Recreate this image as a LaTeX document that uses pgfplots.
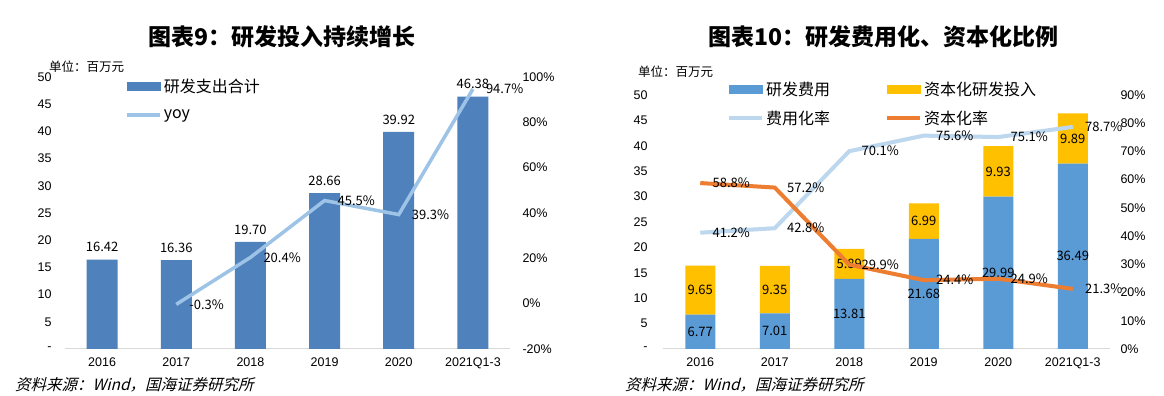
\documentclass[border=0pt]{standalone}
\usepackage{pgfplots}
\pgfplotsset{compat=1.18}
\usepackage{fontspec}
\setmainfont{Liberation Sans}
\newfontfamily\cjk{Noto Sans CJK SC}
\newfontfamily\cjkit{Noto Sans CJK SC}[FakeSlant=0.25]
\definecolor{barA}{HTML}{4F81BD}
\definecolor{lineA}{HTML}{9DC3E6}
\definecolor{barB}{HTML}{5B9BD5}
\definecolor{yel}{HTML}{FFC000}
\definecolor{lineB}{HTML}{BDD7EE}
\definecolor{org}{HTML}{ED7D31}
\definecolor{axgray}{HTML}{D9D9D9}
\pgfplotsset{
  base/.style={scale only axis, anchor=south west, xmin=-0.5, xmax=5.5, xtick={0,...,5},
    tick style={draw=none}, major tick length=0pt, clip=false,
    ticklabel style={font=\fontsize{12.5}{14}\selectfont}},
  lab/.style={nodes near coords, point meta=explicit symbolic,
    nodes near coords style={text=black, font=\cjk\fontsize{13}{14}\selectfont}},
}
\begin{document}
\begin{tikzpicture}
\fill[white] (0pt,0pt) rectangle (1164pt,396pt);
% ---------------- left panel ----------------
\node[font=\cjk\bfseries\fontsize{23}{25}\selectfont] at (282pt,359pt) {图表9：研发投入持续增长};
\node[font=\cjk\fontsize{12.5}{14}\selectfont, anchor=west, inner sep=0pt] at (49pt,329pt) {单位：百万元};
\node[font=\cjkit\fontsize{15.5}{17}\selectfont, anchor=west, inner sep=0pt] at (15pt,11pt) {资料来源：Wind，国海证券研究所};
\begin{axis}[base, at={(65pt,47pt)}, width=445pt, height=272pt, ymin=0, ymax=50,
  axis x line*=bottom, axis y line*=left,
  x axis line style={-, draw=axgray, line width=1pt}, y axis line style={draw=none},
  xticklabels={2016,2017,2018,2019,2020,2021Q1-3}, xticklabel style={yshift=-5pt},
  ytick={0,5,...,50}, yticklabels={-,5,10,15,20,25,30,35,40,45,50},
  yticklabel style={xshift=-10pt}]
\addplot[ybar, bar width=31pt, fill=barA, draw=none, lab,
  nodes near coords style={anchor=south, yshift=4pt}]
  coordinates {(0,16.42)[16.42] (1,16.36)[16.36] (2,19.70)[19.70] (3,28.66)[28.66] (4,39.92)[39.92] (5,46.38)[46.38]};
\end{axis}
\begin{axis}[base, at={(65pt,47pt)}, width=445pt, height=272pt, ymin=-20, ymax=100,
  axis y line*=right, axis x line=none, y axis line style={draw=none},
  ytick={-20,0,20,40,60,80,100}, yticklabels={-20\%,0\%,20\%,40\%,60\%,80\%,100\%},
  yticklabel style={xshift=9pt},
  legend style={draw=none, fill=none, at={(0.135,1.001)}, anchor=north west,
    font=\cjk\fontsize{16}{18}\selectfont, row sep=12pt, inner sep=0pt},
  legend cell align=left]
\addlegendimage{legend image code/.code={\fill[barA] (0pt,-4pt) rectangle (33pt,4pt);}}
\addlegendentry{研发支出合计}
\addplot[lineA, line width=3.5pt, mark=none, lab,
  nodes near coords style={anchor=west, xshift=8pt},
  legend image code/.code={\draw[lineA, line width=3.5pt] (0pt,0pt) -- (33pt,0pt);}]
  coordinates {(1,-0.3)[-0.3\%] (2,20.4)[20.4\%] (3,45.5)[45.5\%] (4,39.3)[39.3\%] (5,94.7)[94.7\%]};
\addlegendentry{yoy}
\end{axis}
% ---------------- right panel ----------------
\node[font=\cjk\bfseries\fontsize{23}{25}\selectfont] at (883pt,359pt) {图表10：研发费用化、资本化比例};
\node[font=\cjk\fontsize{12.5}{14}\selectfont, anchor=west, inner sep=0pt] at (638pt,324pt) {单位：百万元};
\node[font=\cjkit\fontsize{15.5}{17}\selectfont, anchor=west, inner sep=0pt] at (625pt,11pt) {资料来源：Wind，国海证券研究所};
\begin{axis}[base, at={(663pt,47pt)}, width=447pt, height=254pt, ymin=0, ymax=50,
  ybar stacked, bar width=30pt,
  axis x line*=bottom, axis y line*=left,
  x axis line style={-, draw=axgray, line width=1pt}, y axis line style={draw=none},
  xticklabels={2016,2017,2018,2019,2020,2021Q1-3}, xticklabel style={yshift=-5pt},
  ytick={0,5,...,50}, yticklabels={-,5,10,15,20,25,30,35,40,45,50},
  yticklabel style={xshift=-12pt}]
\addplot[fill=barB, draw=none] coordinates {(0,6.77) (1,7.01) (2,13.81) (3,21.68) (4,29.99) (5,36.49)};
\addplot[fill=yel, draw=none] coordinates {(0,9.65) (1,9.35) (2,5.89) (3,6.99) (4,9.93) (5,9.89)};
\end{axis}
\begin{axis}[base, at={(663pt,47pt)}, width=447pt, height=254pt, ymin=0, ymax=50, hide axis]
\addplot[draw=none, mark=none, lab, nodes near coords style={anchor=center}]
  coordinates {(0,3.385)[6.77] (1,3.505)[7.01] (2,6.905)[13.81] (3,10.84)[21.68] (4,14.995)[29.99] (5,18.245)[36.49]
  (0,11.595)[9.65] (1,11.685)[9.35] (2,16.755)[5.89] (3,25.175)[6.99] (4,34.955)[9.93] (5,41.435)[9.89]};
\end{axis}
\begin{axis}[base, at={(663pt,47pt)}, width=447pt, height=254pt, ymin=0, ymax=90,
  axis y line*=right, axis x line=none, y axis line style={draw=none},
  ytick={0,10,...,90}, yticklabels={0\%,10\%,20\%,30\%,40\%,50\%,60\%,70\%,80\%,90\%},
  yticklabel style={xshift=7pt},
  legend columns=2,
  legend style={draw=none, fill=none, at={(0.143,1.060)}, anchor=north west,
    font=\cjk\fontsize{16}{18}\selectfont, row sep=10pt, inner sep=0pt,
    /tikz/every even column/.append style={column sep=53pt}},
  legend cell align=left]
\addlegendimage{legend image code/.code={\fill[barB] (0pt,-4pt) rectangle (33pt,4pt);}}
\addlegendentry{研发费用}
\addlegendimage{legend image code/.code={\fill[yel] (0pt,-4pt) rectangle (33pt,4pt);}}
\addlegendentry{资本化研发投入}
\addplot[lineB, line width=4pt, mark=none, lab,
  nodes near coords style={anchor=west, xshift=7pt},
  legend image code/.code={\draw[lineB, line width=4pt] (0pt,0pt) -- (33pt,0pt);}]
  coordinates {(0,41.2)[41.2\%] (1,42.8)[42.8\%] (2,70.1)[70.1\%] (3,75.6)[75.6\%] (4,75.1)[75.1\%] (5,78.7)[78.7\%]};
\addlegendentry{费用化率}
\addplot[org, line width=4pt, mark=none, lab,
  nodes near coords style={anchor=west, xshift=7pt},
  legend image code/.code={\draw[org, line width=4pt] (0pt,0pt) -- (33pt,0pt);}]
  coordinates {(0,58.8)[58.8\%] (1,57.2)[57.2\%] (2,29.9)[29.9\%] (3,24.4)[24.4\%] (4,24.9)[24.9\%] (5,21.3)[21.3\%]};
\addlegendentry{资本化率}
\end{axis}
\end{tikzpicture}
\end{document}
